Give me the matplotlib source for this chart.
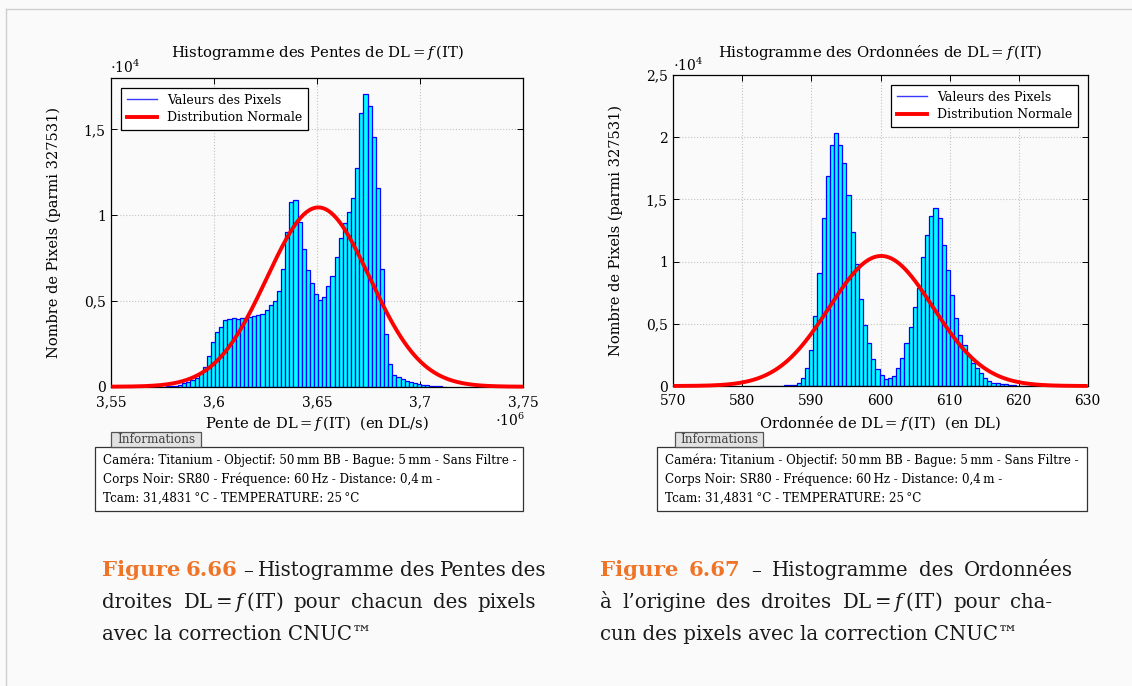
import numpy as np
import matplotlib.pyplot as plt
from matplotlib.patches import Rectangle
from matplotlib.lines import Line2D

plt.rcParams['font.family'] = ['DejaVu Serif']
plt.rcParams['mathtext.fontset'] = 'dejavuserif'

W, H = 1132, 686
BG = '#fafafa'

n_pixels = 327531

# slopes of DL = f(IT), bins of 2000 DL/s
slope_start = 3.5744e6
slope_bw = 2000
slope_counts = [8, 19, 39, 58, 116, 194, 290, 389, 488, 779, 1162, 1784, 2615,
                3161, 3486, 3916, 3974, 4032, 3974, 4032, 4032, 4067, 4125, 4166,
                4265, 4497, 4764, 4997, 5560, 6877, 9046, 10749, 10888, 9587,
                8041, 6821, 6043, 5426, 5037, 5250, 5851, 6432, 7553, 8680, 9552,
                10190, 10981, 12724, 15960, 17046, 16350, 14565, 11585, 6838,
                3100, 1336, 680, 542, 445, 349, 271, 213, 155, 110, 75, 45, 25,
                12, 6]
slope_mu = 3.6505e6
slope_sigma = 25000
slope_xticks = [3.55e6, 3.6e6, 3.65e6, 3.7e6, 3.75e6]
slope_xlabels = ['3,55', '3,6', '3,65', '3,7', '3,75']
slope_yticks = [0, 5000, 10000, 15000]
slope_ylabels = ['0', '0,5', '1', '1,5']

# intercepts of DL = f(IT), bins of 0.6 DL
icpt_start = 582.47
icpt_bw = 0.6
icpt_counts = [10, 15, 20, 25, 30, 40, 55, 80, 120, 215, 620, 1428, 2909, 5602,
               9103, 13490, 16860, 19390, 20340, 19400, 17900, 15350, 12390,
               9777, 7030, 4930, 3450, 2200, 1360, 889, 566, 620, 835, 1428,
               2290, 3448, 4713, 6330, 7890, 10370, 12150, 13680, 14277, 13470,
               11310, 9320, 7300, 5470, 4120, 3313, 2505, 1883, 1428, 1026, 670,
               430, 270, 215, 190, 135, 80, 50, 30, 20, 12, 6]
icpt_mu = 600.1
icpt_sigma = 7.5
icpt_xticks = [570, 580, 590, 600, 610, 620, 630]
icpt_xlabels = ['570', '580', '590', '600', '610', '620', '630']
icpt_yticks = [0, 5000, 10000, 15000, 20000, 25000]
icpt_ylabels = ['0', '0,5', '1', '1,5', '2', '2,5']

info_lines = [
    'Caméra: Titanium - Objectif: 50\u2009mm BB - Bague: 5\u2009mm - Sans Filtre -',
    'Corps Noir: SR80 - Fréquence: 60\u2009Hz - Distance: 0,4\u2009m -',
    'Tcam: 31,4831\u2009°C - TEMPERATURE: 25\u2009°C',
]

fig = plt.figure(figsize=(W / 100, H / 100), dpi=100, facecolor=BG)
renderer = fig.canvas.get_renderer()


def fx(x):
    return x / W


def fy(y):
    return 1 - y / H


def txt(x, y, s, **kw):
    kw.setdefault('fontsize', 10)
    kw.setdefault('ha', 'center')
    kw.setdefault('va', 'center')
    return fig.text(fx(x), fy(y), s, **kw)


def panel(box, start, bw, counts, mu, sigma, xlim, ylim, xticks, xlabels,
          yticks, ylabels, leg_loc, title, xlabel):
    x0, y0, x1, y1 = box
    ax = fig.add_axes([fx(x0), fy(y1), (x1 - x0) / W, (y1 - y0) / H])
    ax.set_facecolor(BG)
    edges = start + bw * np.arange(len(counts))
    ax.bar(edges, counts, width=bw, align='edge', color='#00ffff',
           edgecolor='#0000ff', linewidth=0.9, zorder=2)
    xs = np.linspace(xlim[0], xlim[1], 500)
    amp = n_pixels * bw / (sigma * np.sqrt(2 * np.pi))
    ax.plot(xs, amp * np.exp(-0.5 * ((xs - mu) / sigma) ** 2), color='red',
            lw=2.8, zorder=5, clip_on=False, solid_capstyle='butt')
    ax.set_xlim(xlim)
    ax.set_ylim(ylim)
    ax.set_xticks(xticks)
    ax.set_xticklabels(xlabels)
    ax.set_yticks(yticks)
    ax.set_yticklabels(ylabels)
    ax.tick_params(direction='in', top=True, right=True, length=4,
                   labelsize=10, width=0.7)
    ax.tick_params(axis='x', pad=6)
    ax.tick_params(axis='y', pad=4)
    ax.grid(True, linestyle=':', color='#c4c4c4', linewidth=0.8, zorder=0)
    ax.set_axisbelow(True)
    for sp in ax.spines.values():
        sp.set_linewidth(0.9)
    handles = [Line2D([], [], color='#3a3aff', lw=1.0),
               Line2D([], [], color='red', lw=2.8)]
    leg = ax.legend(handles, ['Valeurs des Pixels', 'Distribution Normale'],
                    loc=leg_loc, fontsize=9, fancybox=False, framealpha=1,
                    edgecolor='black', handlelength=2.4, borderpad=0.45,
                    labelspacing=0.35, borderaxespad=0.8)
    leg.get_frame().set_linewidth(0.9)
    leg.set_zorder(10)

    cx = (x0 + x1) / 2
    txt(cx, 52, title, fontsize=10.7)
    txt(cx, 423, xlabel, fontsize=10.6)
    txt(x0 - 57, (y0 + y1) / 2, 'Nombre de Pixels (parmi 327531)',
        fontsize=10.5, rotation=90)
    return ax


panel((111.3, 78, 523.3, 386.7), slope_start, slope_bw, slope_counts,
      slope_mu, slope_sigma, (3.55e6, 3.75e6), (0, 18000), slope_xticks,
      slope_xlabels, slope_yticks, slope_ylabels, 'upper left',
      'Histogramme des Pentes de DL$=f\\,$(IT)',
      'Pente de DL$=f\\,$(IT)  (en DL/s)')
txt(125, 67, '$\\cdot 10^4$', fontsize=10)
txt(510, 420, '$\\cdot 10^6$', fontsize=10)

panel((673.3, 75, 1087.7, 386), icpt_start, icpt_bw, icpt_counts,
      icpt_mu, icpt_sigma, (570, 630), (0, 25000), icpt_xticks,
      icpt_xlabels, icpt_yticks, icpt_ylabels, 'upper right',
      'Histogramme des Ordonnées de DL$=f\\,$(IT)',
      'Ordonnée de DL$=f\\,$(IT)  (en DL)')
txt(688, 65, '$\\cdot 10^4$', fontsize=10)


def info_box(bx0, bx1, tab_x0, tab_x1, text_x):
    top, bottom = 446.7, 511
    fig.add_artist(Rectangle((fx(bx0), fy(bottom)), (bx1 - bx0) / W,
                             (bottom - top) / H, transform=fig.transFigure,
                             facecolor='white', edgecolor='#333333', lw=0.9))
    fig.add_artist(Rectangle((fx(tab_x0), fy(top)), (tab_x1 - tab_x0) / W,
                             15 / H, transform=fig.transFigure,
                             facecolor='#e2e2e2', edgecolor='#555555', lw=0.9))
    txt((tab_x0 + tab_x1) / 2, 439.5, 'Informations', fontsize=8.6,
        color='#444444')
    for i, line in enumerate(info_lines):
        txt(text_x, 460 + 19.2 * i, line, fontsize=8.55, ha='left')


info_box(94.7, 523.3, 111.3, 201, 103)
info_box(657, 1087, 675, 763, 665)

# captions, first two lines stretched towards the right margin
CAP = 14.2
ORANGE = '#f07428'
INK = '#1a1a1a'
MAX_GAP = 10.5


def caption_line(tokens, x_left, base, x_right=None):
    arts, widths = [], []
    for s, kw in tokens:
        props = dict(fontsize=CAP, color=INK)
        props.update(kw)
        t = fig.text(0, fy(base), s, ha='left', va='baseline', **props)
        arts.append(t)
        widths.append(t.get_window_extent(renderer).width)
    gap = 6.3
    if x_right is not None:
        gap = (x_right - x_left - sum(widths)) / (len(arts) - 1)
        gap = min(gap, MAX_GAP)
    x = x_left
    for t, w in zip(arts, widths):
        t.set_x(fx(x))
        x += w + gap


def words(s):
    return [(w, {}) for w in s.split(' ')]


bold = dict(color=ORANGE, fontweight='bold', fontsize=15.3)
captions = [
    (102, 546, '6.66', 'Histogramme des Pentes des',
     'droites DL$=f\\,$(IT) pour chacun des pixels',
     'avec la correction CNUC™'),
    (600, 1110, '6.67', 'Histogramme des Ordonnées',
     'à l’origine des droites DL$=f\\,$(IT) pour cha-',
     'cun des pixels avec la correction CNUC™'),
]
for xl, xr, num, l1, l2, l3 in captions:
    first = [('Figure', bold), (num, bold)] + words('– ' + l1)
    caption_line(first, xl, 576.5, xr)
    caption_line(words(l2), xl, 608.5, xr)
    caption_line([(l3, {})], xl, 640.5)

# page frame
fig.add_artist(Line2D([fx(6), 1], [fy(9), fy(9)], transform=fig.transFigure,
                      color='#cfcfcf', lw=1))
fig.add_artist(Line2D([fx(6), fx(6)], [fy(9), 0], transform=fig.transFigure,
                      color='#cfcfcf', lw=1))

fig.savefig('out.png', dpi=100, facecolor=BG)
